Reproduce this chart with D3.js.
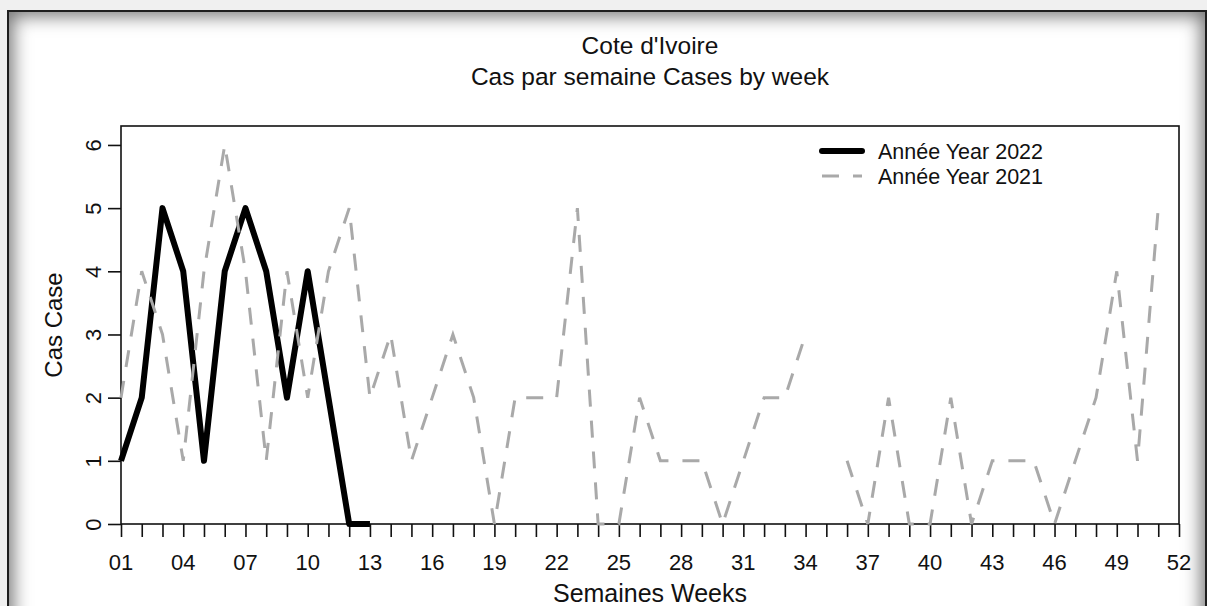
<!DOCTYPE html>
<html>
<head>
<meta charset="utf-8">
<script src="https://cdn.jsdelivr.net/npm/d3@7"></script>
<style>
  html, body { margin: 0; padding: 0; background: #f0f0f0; overflow: hidden; }
  #frame {
    position: absolute; left: 7px; top: 10px; width: 1196px; height: 640px;
    border: 2px solid #1e1e1e; background: #fff;
    box-shadow: inset 0 0 18px 4px rgba(0,0,0,0.55);
  }
  #chart { position: absolute; left: 0; top: 0; }
  text { font-family: "Liberation Sans", Arial, sans-serif; fill: #111; }
</style>
</head>
<body>
<div id="frame"></div>
<div id="chart"></div>
<script>
// weekly cases, index 0 = week 01
const cases2022 = [1, 2, 5, 4, 1, 4, 5, 4, 2, 4, 2, 0, 0];
const cases2021 = [2, 4, 3, 1, 4, 6, 4, 1, 4, 2, 4, 5, 2, 3, 1, 2, 3, 2, 0, 2,
                   2, 2, 5, 0, 0, 2, 1, 1, 1, 0, 1, 2, 2, 3, null, 1, 0, 2, 0, 0,
                   2, 0, 1, 1, 1, 0, 1, 2, 4, 1, 5, null];
const xTickWeeks = [1, 4, 7, 10, 13, 16, 19, 22, 25, 28, 31, 34, 37, 40, 43, 46, 49, 52];
const yTickValues = [0, 1, 2, 3, 4, 5, 6];
const titleLines = ["Cote d'Ivoire", "Cas par semaine Cases by week"];
const legendLabels = ["Année Year 2022", "Année Year 2021"];

const width = 1207, height = 606;
const plot = { left: 121, right: 1179, top: 126, bottom: 524 };

const svg = d3.select('#chart').append('svg')
  .attr('width', width)
  .attr('height', height);

const x = d3.scaleLinear().domain([1, 52]).range([plot.left, plot.right]);
const y = d3.scaleLinear().domain([0, 6.3]).range([plot.bottom, plot.top]);

// title
svg.selectAll('.title')
  .data(titleLines)
  .enter().append('text')
  .attr('class', 'title')
  .attr('x', (plot.left + plot.right) / 2)
  .attr('y', (d, i) => 54 + i * 31)
  .attr('text-anchor', 'middle')
  .style('font-size', '24.5px')
  .text(d => d);

// x axis
const xAxis = svg.append('g')
  .attr('transform', `translate(0,${plot.bottom})`)
  .call(d3.axisBottom(x).tickValues(d3.range(1, 53)).tickSize(13).tickFormat(''));
xAxis.select('.domain').remove();
xAxis.selectAll('line').attr('stroke', '#111').attr('stroke-width', 1.6);

svg.append('g').selectAll('text')
  .data(xTickWeeks)
  .enter().append('text')
  .attr('x', d => x(d))
  .attr('y', 570)
  .attr('text-anchor', 'middle')
  .style('font-size', '22px')
  .text(d => d3.format('02d')(d));

// y axis, labels parallel to the axis
const yAxis = svg.append('g')
  .attr('transform', `translate(${plot.left},0)`)
  .call(d3.axisLeft(y).tickValues(yTickValues).tickSize(13).tickFormat(d3.format('d')));
yAxis.select('.domain').remove();
yAxis.selectAll('line').attr('stroke', '#111').attr('stroke-width', 1.6);
yAxis.selectAll('text')
  .attr('transform', 'rotate(-90)')
  .attr('x', 0)
  .attr('y', -20)
  .attr('dy', null)
  .attr('text-anchor', 'middle')
  .style('font-size', '22px')
  .style('font-family', '"Liberation Sans", Arial, sans-serif')
  .attr('fill', '#111');

// axis titles
svg.append('text')
  .attr('x', (plot.left + plot.right) / 2)
  .attr('y', 602)
  .attr('text-anchor', 'middle')
  .style('font-size', '25px')
  .text('Semaines Weeks');

svg.append('text')
  .attr('transform', `translate(62,${(plot.top + plot.bottom) / 2}) rotate(-90)`)
  .attr('text-anchor', 'middle')
  .style('font-size', '24px')
  .text('Cas Case');

// plot box
svg.append('rect')
  .attr('x', plot.left)
  .attr('y', plot.top)
  .attr('width', plot.right - plot.left)
  .attr('height', plot.bottom - plot.top)
  .attr('fill', 'none')
  .attr('stroke', '#111')
  .attr('stroke-width', 1.6);

// lines
const line = d3.line()
  .defined(d => d != null)
  .x((d, i) => x(i + 1))
  .y(d => y(d));

svg.append('path')
  .datum(cases2022)
  .attr('d', line)
  .attr('fill', 'none')
  .attr('stroke', '#000')
  .attr('stroke-width', 6)
  .attr('stroke-linejoin', 'round');

svg.append('path')
  .datum(cases2021)
  .attr('d', line)
  .attr('fill', 'none')
  .attr('stroke', '#a9a9a9')
  .attr('stroke-width', 3)
  .attr('stroke-dasharray', '17,14');

// legend
const legend = svg.append('g').attr('transform', 'translate(822,151)');
const legendStyles = [
  { stroke: '#000', width: 6, dash: null },
  { stroke: '#a9a9a9', width: 3, dash: '17,14' }
];
const items = legend.selectAll('g')
  .data(legendLabels)
  .enter().append('g')
  .attr('transform', (d, i) => `translate(0,${i * 25})`);

items.append('line')
  .attr('x1', 0).attr('x2', 40)
  .attr('stroke', (d, i) => legendStyles[i].stroke)
  .attr('stroke-width', (d, i) => legendStyles[i].width)
  .attr('stroke-linecap', (d, i) => i === 0 ? 'round' : 'butt')
  .attr('stroke-dasharray', (d, i) => legendStyles[i].dash);

items.append('text')
  .attr('x', 56)
  .attr('y', 8)
  .style('font-size', '21.5px')
  .text(d => d);
</script>
</body>
</html>
